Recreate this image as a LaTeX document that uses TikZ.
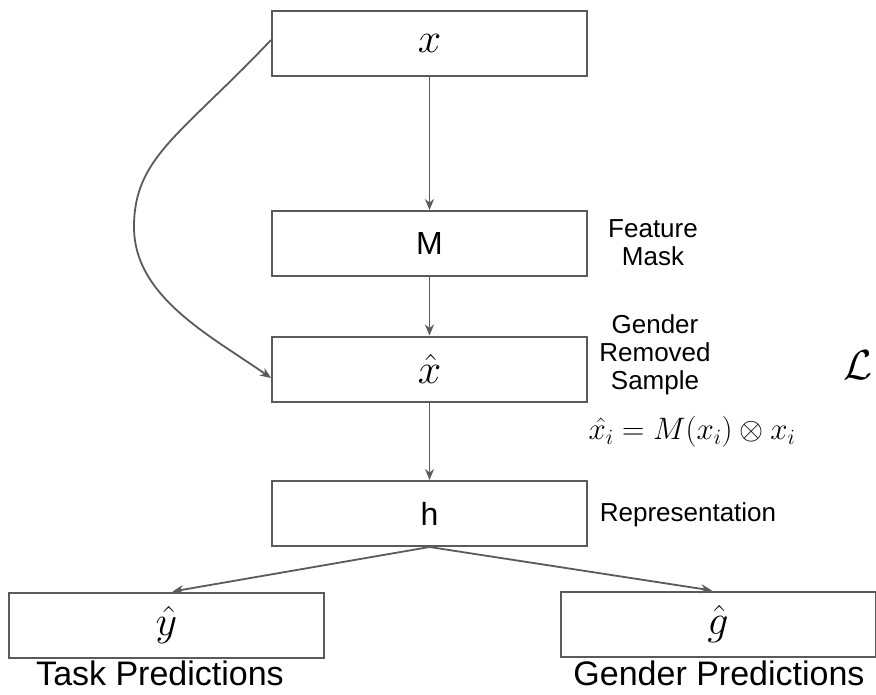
\documentclass[tikz,border=0pt]{standalone}
\usepackage{fix-cm}
\usepackage{fontspec}
\setsansfont{Liberation Sans}
\usetikzlibrary{arrows.meta}

\definecolor{edge}{HTML}{5A5A5A}

\newcommand{\mathsz}{\fontsize{42}{44}\selectfont}
\newcommand{\boxsz}{\fontsize{32}{34}\selectfont\sffamily}

\begin{document}
\begin{tikzpicture}[
    x=1pt, y=-1pt,
    block/.style={draw=edge, line width=2pt, minimum width=315pt,
      minimum height=65pt, inner sep=0pt},
    link/.style={draw=edge, line width=1.8pt,
      -{Stealth[length=11pt, width=9pt]}},
    note/.style={font=\fontsize{26}{28}\selectfont\sffamily, align=center},
    caption/.style={font=\fontsize{34}{36}\selectfont\sffamily, anchor=base,
      inner sep=1pt},
  ]
  \useasboundingbox (0,0) rectangle (876,694);

  % main column
  \node[block] (x)    at (429.5,43)    {\mathsz$x$};
  \node[block] (m)    at (429.5,243.5) {\boxsz M};
  \node[block] (xhat) at (429.5,369)   {\mathsz$\hat{x}$};
  \node[block] (h)    at (429.5,513.5) {\boxsz h};

  % two heads
  \node[block] (yhat) at (166.5,625) {\mathsz$\hat{y}$};
  \node[block] (ghat) at (718,624)   {\mathsz$\hat{g}$};

  % side notes
  \node[note] (mask)    at (653,243) {Feature\\Mask};
  \node[note] (removed) at (655,355) {Gender\\Removed\\Sample};
  \node (eq) at (692,432)
    {\fontsize{31}{34}\selectfont$\hat{x_i} = M(x_i) \otimes x_i$};
  \node (loss) at (858,365) {\mathsz$\mathcal{L}$};
  \node[note] (repr) at (688,515) {Representation};
  \node[caption] (task)   at (160,685) {Task Predictions};
  \node[caption] (gender) at (719,685) {Gender Predictions};

  \draw[link] (x) -- (m);
  \draw[link] (m) -- (xhat);
  \draw[link] (xhat) -- (h);
  \draw[link] (h.south) -- ([xshift=6pt]yhat.north);
  \draw[link] (h.south) -- ([xshift=-6pt]ghat.north);

  % skip connection around the mask
  \draw[link] ([yshift=3pt]x.west)
    .. controls +(-90,95) and +(0,-70) .. (134,227)
    .. controls +(0,70) and +(-60,-42) .. ([yshift=-9pt]xhat.west);
\end{tikzpicture}
\end{document}
